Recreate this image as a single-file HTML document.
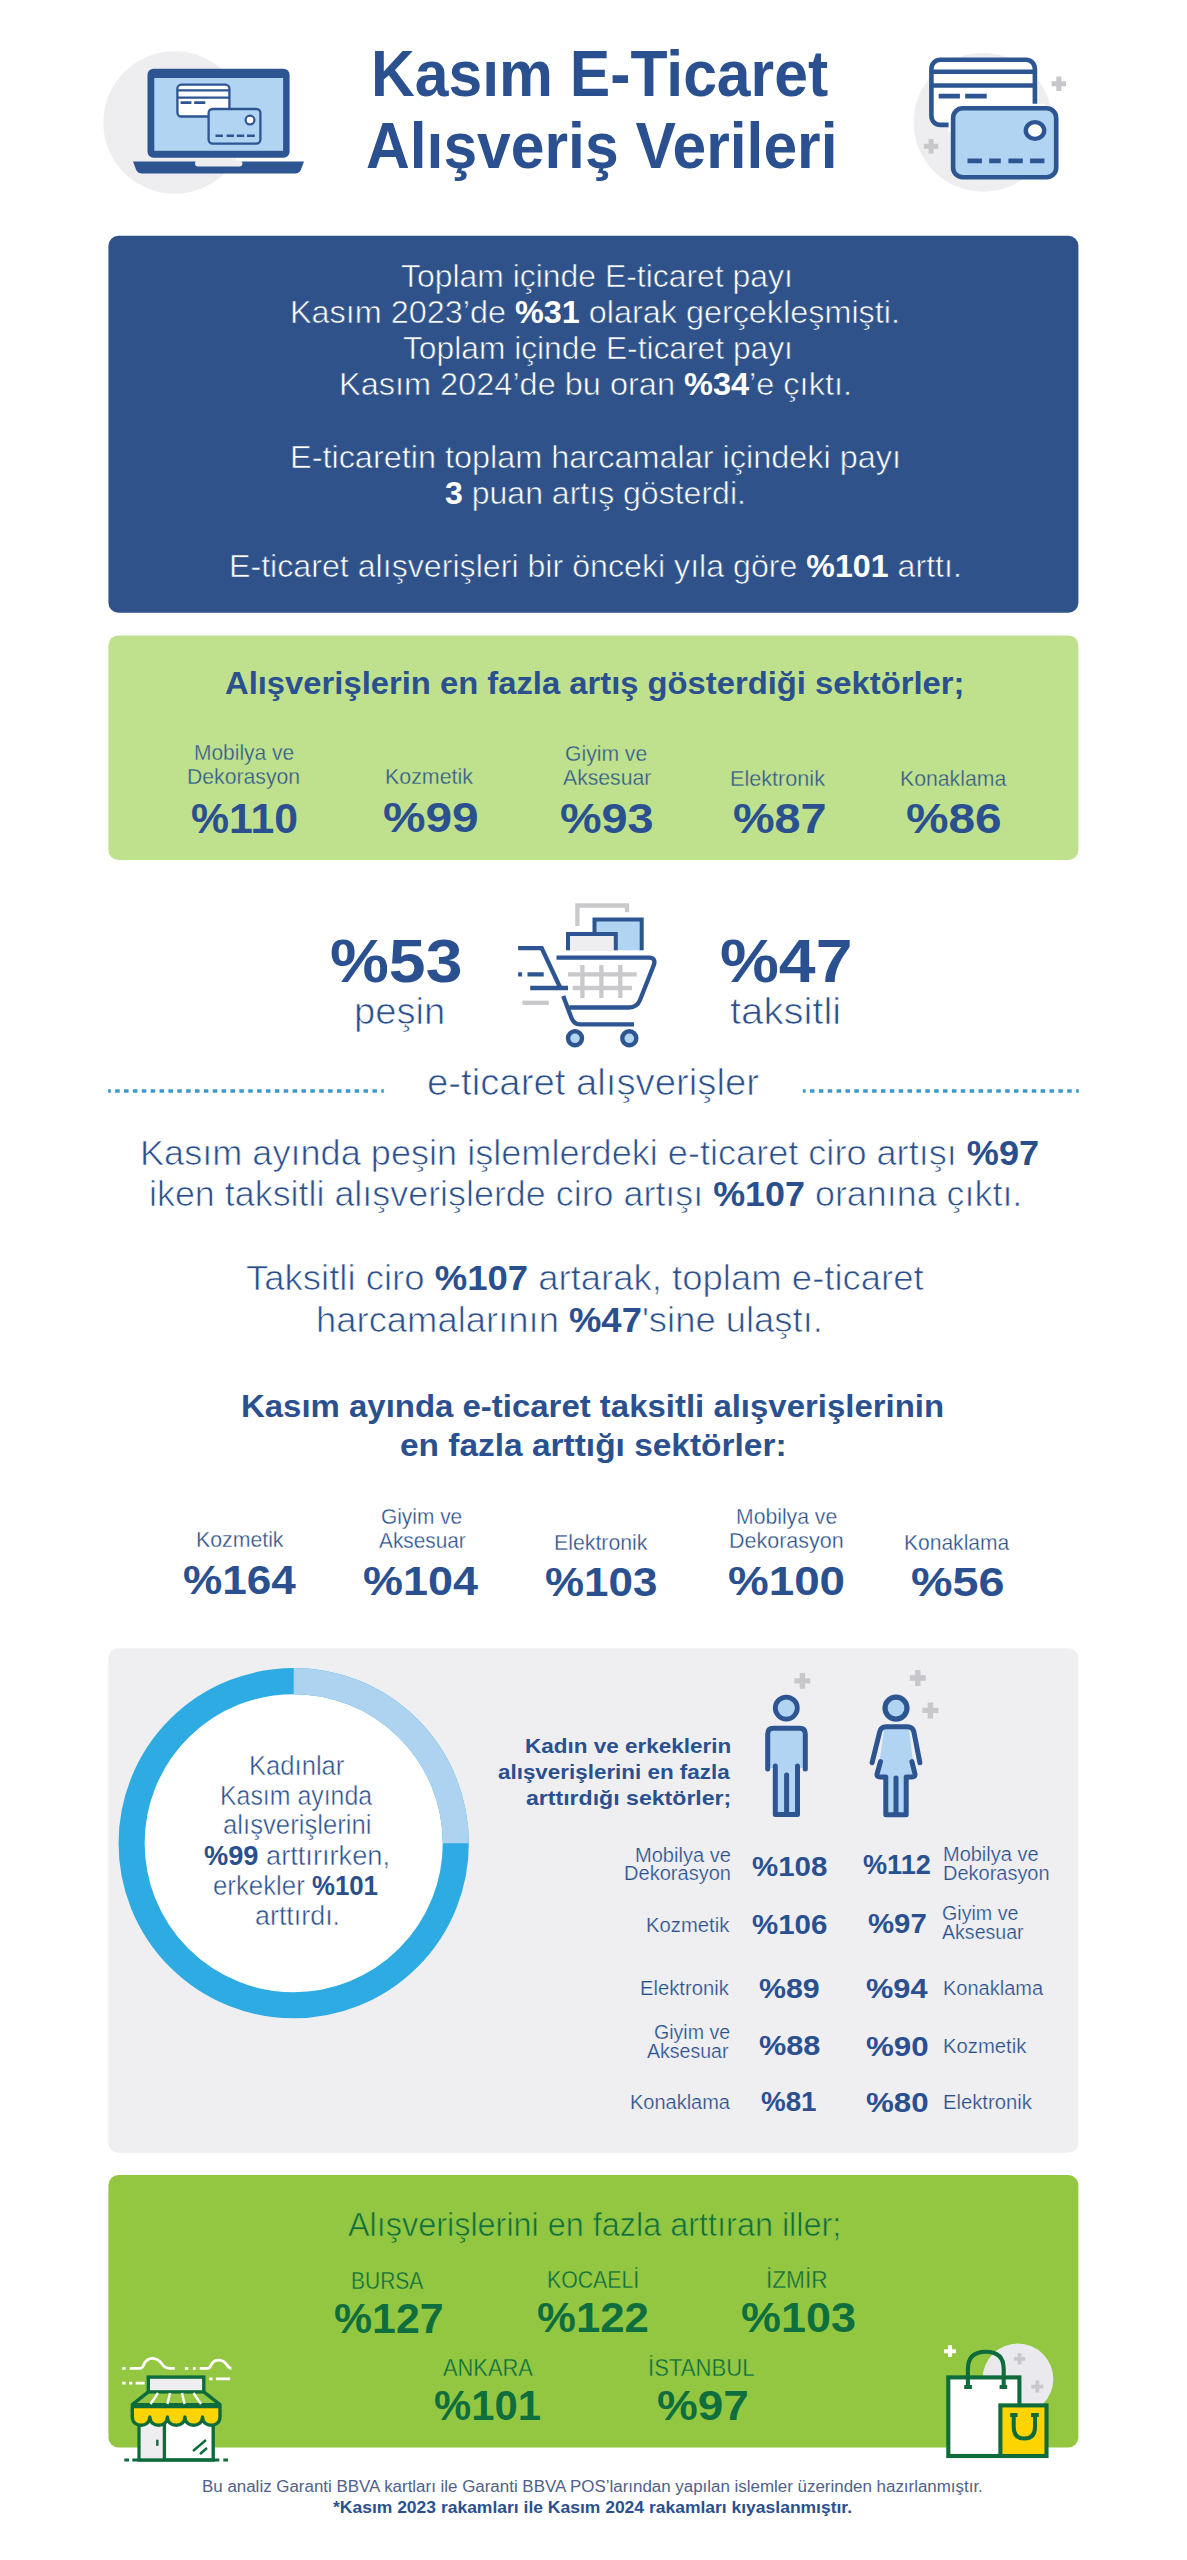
<!DOCTYPE html>
<html lang="tr"><head><meta charset="utf-8"><title>Kasım E-Ticaret Alışveriş Verileri</title>
<style>
*{margin:0;padding:0;box-sizing:border-box}
html,body{width:1187px;height:2560px;background:#fff;overflow:hidden}
body{position:relative;font-family:"Liberation Sans",sans-serif}
svg.bg{position:absolute;left:0;top:0}
.t{position:absolute;white-space:nowrap;line-height:1;transform-origin:0 0;font-weight:400}
.t.b{font-weight:700}
.t b{font-weight:700;-webkit-text-stroke-width:0}
.t .n{font-weight:400}
</style></head>
<body>
<svg class="bg" width="1187" height="2560" viewBox="0 0 1187 2560">
<!-- boxes -->
<rect x="108.4" y="235.8" width="970" height="377" rx="10" fill="#2e5289"/>
<rect x="108.4" y="635.4" width="970" height="224.5" rx="10" fill="#bfe08d"/>
<rect x="108.3" y="1648.3" width="970" height="504.4" rx="10" fill="#efeff2"/>
<rect x="108.4" y="2175" width="970" height="272.5" rx="10" fill="#93c741"/>

<!-- header left icon: laptop -->
<g id="laptop">
<circle cx="174.6" cy="122.5" r="71.3" fill="#eeeef1"/>
<rect x="147.5" y="68.7" width="142.1" height="89" rx="6" fill="#2d5592"/>
<rect x="154.3" y="78" width="128.8" height="72.8" fill="#b0d4f1"/>
<path d="M133 161.4 H304 L301 169.5 Q299.5 173.5 295 173.5 H142 Q137.5 173.5 136 169.5 Z" fill="#2d5592"/>
<rect x="195" y="160.5" width="47.4" height="6" rx="3" fill="#eeeef1"/>
<rect x="177.4" y="84.7" width="52" height="31.8" rx="4" fill="#fff" stroke="#2d5592" stroke-width="2.3"/>
<path d="M177.4 90.3 H229.4 M177.4 97.7 H229.4" stroke="#2d5592" stroke-width="2.2"/>
<path d="M180.6 102.6 H191.4 M194.2 102.6 H205.3" stroke="#2d5592" stroke-width="2.8"/>
<rect x="208.6" y="109" width="51.8" height="34.6" rx="4" fill="#b0d4f1" stroke="#2d5592" stroke-width="2.3"/>
<circle cx="250" cy="120.1" r="4.4" fill="#fff" stroke="#2d5592" stroke-width="2.2"/>
<path d="M215.5 135.7 H222.9 M226.6 135.7 H234 M236.8 135.7 H244.2 M247 135.7 H254.8" stroke="#2d5592" stroke-width="2.6"/>
</g>

<!-- header right icon: cards -->
<g id="cards">
<circle cx="983" cy="122.3" r="69.4" fill="#eeeef1"/>
<path d="M1058.8 76.5 V90.9 M1051.6 83.7 H1066 " stroke="#c8c8cc" stroke-width="5"/>
<path d="M931.1 139 V153.4 M923.9 146.2 H938.3" stroke="#c8c8cc" stroke-width="5"/>
<rect x="931.4" y="59.7" width="103.5" height="65.2" rx="9" fill="#fff" stroke="#2d5592" stroke-width="4.6"/>
<path d="M933 71.8 H1033.5 M933 85.5 H1033.5" stroke="#2d5592" stroke-width="4.4"/>
<path d="M938.7 96.1 H959.9 M965.2 96.1 H986.7" stroke="#2d5592" stroke-width="4.6"/>
<path d="M953.1 132 V117.8 Q953.1 108.3 962.6 108.3 H1045" fill="none" stroke="#fff" stroke-width="9"/>
<rect x="953.1" y="108.3" width="103.1" height="68.9" rx="9.5" fill="#b0d4f1" stroke="#2d5592" stroke-width="4.6"/>
<ellipse cx="1035" cy="130.5" rx="9.2" ry="8.4" fill="#fff" stroke="#2d5592" stroke-width="4.4"/>
<path d="M967.5 160.9 H981.9 M989.2 160.9 H1000.8 M1008.4 160.9 H1022.8 M1030.1 160.9 H1044.4" stroke="#2d5592" stroke-width="4.6"/>
</g>

<!-- cart -->
<g id="cart" fill="none" stroke-width="4.3">
<path d="M577.4 926 V905.5 H627 V912.3" stroke="#c9c9cc"/>
<rect x="594.5" y="919.6" width="47.2" height="30.7" fill="#b0d4f1" stroke="none"/>
<path d="M594.5 950.3 V919.6 H641.7 V950.3" stroke="#2d5592" stroke-width="4"/>
<rect x="568" y="934" width="47.8" height="17" fill="#eeeef1" stroke="none"/>
<path d="M568 950.3 V934 H615.8 V950.3" stroke="#2d5592" stroke-width="4"/>
<path d="M582.4 965 V998.1 M601.4 965 V998.1 M620.3 965 V998.1 M568 974.3 H636.7 M572.7 988 H632" stroke="#c9c9cc" stroke-width="4.3"/>
<path d="M556.5 957.7 H649 Q656 957.7 654 964.5 L640 1000 Q637 1007.5 629 1007.5 H569.3" stroke="#2d5592" stroke-width="4.3"/>
<path d="M518.1 948.2 H541.7 L559.9 987" stroke="#2d5592" stroke-width="4.3"/>
<path d="M563.2 996.1 L571.5 1018 Q574 1024.4 580 1024.4 H634" stroke="#2d5592" stroke-width="4.3"/>
<path d="M518.1 974.3 H522.1 M527.5 974.3 H543.7 M530.2 988 H568" stroke="#2d5592" stroke-width="4.3"/>
<path d="M522.4 1002.8 H548.8" stroke="#c9c9cc" stroke-width="4.3"/>
<circle cx="575" cy="1038.3" r="7" fill="#b0d4f1" stroke="#2d5592" stroke-width="4.4"/>
<circle cx="629.3" cy="1038.3" r="7" fill="#b0d4f1" stroke="#2d5592" stroke-width="4.4"/>
</g>

<!-- dotted lines -->
<path d="M108.1 1091 H383.8" stroke="#3b9acb" stroke-width="3.3" stroke-dasharray="4.5 4.37" stroke-dashoffset="1.77"/>
<path d="M802.9 1091 H1078.8" stroke="#3b9acb" stroke-width="3.3" stroke-dasharray="4.5 4.37" stroke-dashoffset="1.77"/>

<!-- donut -->
<circle cx="293.7" cy="1843.2" r="162.1" fill="#fff" stroke="#2eabe2" stroke-width="26.1"/>
<path d="M293.7 1681.1 A162.1 162.1 0 0 1 455.8 1843.2" fill="none" stroke="#add3f0" stroke-width="26.1"/>

<!-- man -->
<g id="man" stroke="#2d5592" stroke-width="5" stroke-linecap="round" stroke-linejoin="round">
<path d="M794.4 1680.9 H810.3 M802.4 1673.1 V1688.8" stroke="#c8c8cc" stroke-width="5.4" stroke-linecap="butt"/>
<path d="M770 1730.6 H803 V1768 H798 V1815 H775 V1768 H770 Z" fill="#b0d4f1" stroke="none"/>
<circle cx="786.3" cy="1708.1" r="11" fill="#b0d4f1" stroke-width="4.8"/>
<path d="M767.7 1769 V1734 Q767.7 1728.3 773.4 1728.3 H799.6 Q805.3 1728.3 805.3 1734 V1769" fill="none"/>
<path d="M775.3 1766 V1814.4 H797.5 V1766" fill="none"/>
<path d="M786.6 1775 V1814" fill="none"/>
</g>

<!-- woman -->
<g id="woman" stroke="#2d5592" stroke-width="5" stroke-linecap="round" stroke-linejoin="round">
<path d="M909.8 1678 H925.8 M917.8 1670 V1686" stroke="#c8c8cc" stroke-width="5.4" stroke-linecap="butt"/>
<path d="M922.4 1710.4 H938.4 M930.4 1702.4 V1718.4" stroke="#c8c8cc" stroke-width="5.4" stroke-linecap="butt"/>
<path d="M884 1729 H909 L915 1777 H906 V1813 H886 V1777 H877.5 Z" fill="#b0d4f1" stroke="none"/>
<circle cx="896" cy="1708.1" r="11" fill="#b0d4f1" stroke-width="5.2"/>
<path d="M872.1 1762.7 L879.8 1731.5 Q881 1726.7 886 1726.7 H907.5 Q912.5 1726.7 913.8 1731.5 L919.9 1762.7" fill="none"/>
<path d="M880.5 1761.6 L877 1774 Q876.5 1777 880 1777 H885.8 V1814.7 H906.2 V1777 H912 Q915.5 1777 915 1774 L911.9 1761.6" fill="none"/>
<path d="M896 1778 V1814" fill="none"/>
</g>

<!-- store icon -->
<g id="store" stroke-linecap="butt">
<path d="M122.2 2368.3 H125.6 M129.7 2368.3 H140.4 Q143 2368 144 2364 Q147 2358 153 2358.3 Q158 2358.5 162 2364 Q165 2368.3 170 2368.3 H174.8" stroke="#fff" stroke-width="2.8" fill="none"/>
<path d="M184.9 2368.3 H188.3 M193 2368.3 H195.7 M199.7 2368.3 H207.8 Q210 2368 211 2365 Q214 2360 219 2360.2 Q224 2360.5 227 2365 Q229 2368.3 231.4 2368.3" stroke="#fff" stroke-width="2.8" fill="none"/>
<path d="M122.2 2383.1 H125.6 M129 2383.1 H132.3 M135.7 2383.1 H144.5 M209.2 2378.8 H212.5 M215.9 2378.8 H230.1" stroke="#fff" stroke-width="2.8" fill="none"/>
<rect x="148.3" y="2377.1" width="55.5" height="14.8" fill="#eeeef1" stroke="#0e6b3b" stroke-width="3.4"/>
<path d="M148.3 2391.9 L132.3 2404.7 H220 L203.8 2391.9" fill="none" stroke="#0e6b3b" stroke-width="3.4" stroke-linejoin="round"/>
<path d="M158 2393 L150.5 2404 M170 2393 L167.5 2404 M182 2393 L184.5 2404 M193.5 2393 L201 2404" stroke="#fff" stroke-width="2.4"/>
<rect x="139.1" y="2420" width="74.1" height="40" fill="#fff" stroke="#0e6b3b" stroke-width="3.4"/>
<rect x="140.8" y="2421.5" width="23.6" height="37" fill="#eeeef1"/>
<path d="M164.4 2420 V2460" stroke="#0e6b3b" stroke-width="3.4"/>
<path d="M157.3 2439.7 V2445.8" stroke="#0e6b3b" stroke-width="2.4"/>
<path d="M193 2451 L206 2440 M200 2454 L207 2448" stroke="#0e6b3b" stroke-width="2.4"/>
<path d="M132.3 2406.6 H220 V2417 C220.0 2428 202.5 2428 202.5 2417 C202.5 2428 184.9 2428 184.9 2417 C184.9 2428 167.4 2428 167.4 2417 C167.4 2428 149.8 2428 149.8 2417 C149.8 2428 132.3 2428 132.3 2417 Z" fill="#fdd400" stroke="#0e6b3b" stroke-width="3.4" stroke-linejoin="round"/>
<path d="M132.3 2460 H219.3 M124.3 2460 H129 M223.3 2460 H228" stroke="#0e6b3b" stroke-width="3.2"/>
</g>

<!-- bags icon -->
<g id="bags">
<circle cx="1017.9" cy="2379" r="35.4" fill="#eaeaee"/>
<path d="M944.1 2351.2 H955.9 M950 2345.3 V2357.1" stroke="#fff" stroke-width="4"/>
<path d="M1014 2358.9 H1025.2 M1019.6 2353.3 V2364.5" stroke="#c8c8cc" stroke-width="3.8"/>
<path d="M1031.3 2386.6 H1043.3 M1037.3 2380.6 V2392.6" stroke="#c8c8cc" stroke-width="3.8"/>
<rect x="948.3" y="2377.4" width="71.1" height="78.6" fill="#fff" stroke="#0e6b3b" stroke-width="4.1"/>
<path d="M967.9 2387 V2369 Q967.9 2351.8 985.8 2351.8 Q1003.7 2351.8 1003.7 2369 V2387 M964.2 2387 H971.9 M999.6 2387 H1007.2" fill="none" stroke="#0e6b3b" stroke-width="4.1"/>
<rect x="1000.4" y="2405.4" width="46.1" height="50.6" fill="#fdd400" stroke="#0e6b3b" stroke-width="4.1"/>
<path d="M1013.7 2414.9 V2427 Q1013.7 2438.5 1024.3 2438.5 Q1035 2438.5 1035 2427 V2414.9 M1010.2 2414.9 H1017.5 M1031 2414.9 H1038.8" fill="none" stroke="#0e6b3b" stroke-width="4"/>
</g>
</svg>

<div class="t b" style="left:371.21px;top:41.81px;font-size:64px;color:#2a5090;transform:scaleX(0.9471)">Kasım E-Ticaret</div>
<div class="t b" style="left:366.05px;top:113.81px;font-size:64px;color:#2a5090;transform:scaleX(0.9466)">Alışveriş Verileri</div>
<div class="t" style="left:401.00px;top:260.21px;font-size:32px;color:#ffffff;transform:scaleX(0.9970);-webkit-text-stroke:0.61px #2e5289">Toplam içinde E-ticaret payı</div>
<div class="t" style="left:289.98px;top:295.91px;font-size:32px;color:#ffffff;transform:scaleX(1.0116);-webkit-text-stroke:0.61px #2e5289">Kasım 2023’de <b>%31</b> olarak gerçekleşmişti.</div>
<div class="t" style="left:403.00px;top:332.41px;font-size:32px;color:#ffffff;transform:scaleX(0.9919);-webkit-text-stroke:0.61px #2e5289">Toplam içinde E-ticaret payı</div>
<div class="t" style="left:338.97px;top:367.71px;font-size:32px;color:#ffffff;transform:scaleX(1.0154);-webkit-text-stroke:0.61px #2e5289">Kasım 2024’de bu oran <b>%34</b>’e çıktı.</div>
<div class="t" style="left:289.97px;top:441.21px;font-size:32px;color:#ffffff;transform:scaleX(1.0133);-webkit-text-stroke:0.61px #2e5289">E-ticaretin toplam harcamalar içindeki payı</div>
<div class="t" style="left:445.00px;top:477.41px;font-size:32px;color:#ffffff;transform:scaleX(1.0009);-webkit-text-stroke:0.61px #2e5289"><b>3</b> puan artış gösterdi.</div>
<div class="t" style="left:228.99px;top:549.91px;font-size:32px;color:#ffffff;transform:scaleX(1.0051);-webkit-text-stroke:0.61px #2e5289">E-ticaret alışverişleri bir önceki yıla göre <b>%101</b> arttı.</div>
<div class="t b" style="left:225.00px;top:668.25px;font-size:31px;color:#2a5090;transform:scaleX(1.0571)">Alışverişlerin en fazla artış gösterdiği sektörler;</div>
<div class="t" style="left:194.05px;top:742.37px;font-size:22px;color:#345889;transform:scaleX(0.9527);-webkit-text-stroke:0.31px #bfe08d">Mobilya ve</div>
<div class="t" style="left:187.04px;top:765.87px;font-size:22px;color:#345889;transform:scaleX(0.9639);-webkit-text-stroke:0.31px #bfe08d">Dekorasyon</div>
<div class="t" style="left:385.03px;top:766.37px;font-size:22px;color:#345889;transform:scaleX(0.9727);-webkit-text-stroke:0.31px #bfe08d">Kozmetik</div>
<div class="t" style="left:565.04px;top:743.37px;font-size:22px;color:#345889;transform:scaleX(0.9606);-webkit-text-stroke:0.31px #bfe08d">Giyim ve</div>
<div class="t" style="left:563.00px;top:767.37px;font-size:22px;color:#345889;transform:scaleX(0.9630);-webkit-text-stroke:0.31px #bfe08d">Aksesuar</div>
<div class="t" style="left:730.02px;top:767.87px;font-size:22px;color:#345889;transform:scaleX(0.9835);-webkit-text-stroke:0.31px #bfe08d">Elektronik</div>
<div class="t" style="left:900.03px;top:767.87px;font-size:22px;color:#345889;transform:scaleX(0.9651);-webkit-text-stroke:0.31px #bfe08d">Konaklama</div>
<div class="t b" style="left:190.98px;top:797.94px;font-size:42px;color:#2a5090;transform:scaleX(1.0171)">%110</div>
<div class="t b" style="left:382.86px;top:797.44px;font-size:42px;color:#2a5090;transform:scaleX(1.1383)">%99</div>
<div class="t b" style="left:559.89px;top:798.44px;font-size:42px;color:#2a5090;transform:scaleX(1.1138)">%93</div>
<div class="t b" style="left:732.89px;top:798.44px;font-size:42px;color:#2a5090;transform:scaleX(1.1138)">%87</div>
<div class="t b" style="left:905.86px;top:798.44px;font-size:42px;color:#2a5090;transform:scaleX(1.1383)">%86</div>
<div class="t b" style="left:329.92px;top:929.53px;font-size:61.5px;color:#2a5090;transform:scaleX(1.0760)">%53</div>
<div class="t b" style="left:719.92px;top:929.53px;font-size:61.5px;color:#2a5090;transform:scaleX(1.0760)">%47</div>
<div class="t" style="left:353.88px;top:993.62px;font-size:36px;color:#2a4f8c;transform:scaleX(1.0604);-webkit-text-stroke:0.73px #ffffff">peşin</div>
<div class="t" style="left:729.50px;top:993.62px;font-size:36px;color:#2a4f8c;transform:scaleX(1.1120);-webkit-text-stroke:0.73px #ffffff">taksitli</div>
<div class="t" style="left:426.94px;top:1065.22px;font-size:36px;color:#2a4f8c;transform:scaleX(1.0640);-webkit-text-stroke:0.73px #ffffff">e-ticaret alışverişler</div>
<div class="t" style="left:140.44px;top:1134.67px;font-size:35px;color:#2a4f8c;transform:scaleX(1.0317);-webkit-text-stroke:0.70px #ffffff">Kasım ayında peşin işlemlerdeki e-ticaret ciro artışı <b>%97</b></div>
<div class="t" style="left:148.95px;top:1175.87px;font-size:35px;color:#2a4f8c;transform:scaleX(1.0250);-webkit-text-stroke:0.70px #ffffff">iken taksitli alışverişlerde ciro artışı <b>%107</b> oranına çıktı.</div>
<div class="t" style="left:246.00px;top:1260.17px;font-size:35px;color:#2a4f8c;transform:scaleX(1.0431);-webkit-text-stroke:0.70px #ffffff">Taksitli ciro <b>%107</b> artarak, toplam e-ticaret</div>
<div class="t" style="left:315.92px;top:1302.37px;font-size:35px;color:#2a4f8c;transform:scaleX(1.0404);-webkit-text-stroke:0.70px #ffffff">harcamalarının <b>%47</b>'sine ulaştı.</div>
<div class="t b" style="left:240.87px;top:1391.45px;font-size:31px;color:#2a5090;transform:scaleX(1.0627)">Kasım ayında e-ticaret taksitli alışverişlerinin</div>
<div class="t b" style="left:399.92px;top:1429.75px;font-size:31px;color:#2a5090;transform:scaleX(1.0788)">en fazla arttığı sektörler:</div>
<div class="t" style="left:195.53px;top:1528.67px;font-size:22px;color:#2a4f8c;transform:scaleX(0.9672);-webkit-text-stroke:0.31px #ffffff">Kozmetik</div>
<div class="t" style="left:381.05px;top:1505.87px;font-size:22px;color:#2a4f8c;transform:scaleX(0.9487);-webkit-text-stroke:0.31px #ffffff">Giyim ve</div>
<div class="t" style="left:378.50px;top:1530.07px;font-size:22px;color:#2a4f8c;transform:scaleX(0.9466);-webkit-text-stroke:0.31px #ffffff">Aksesuar</div>
<div class="t" style="left:553.53px;top:1531.87px;font-size:22px;color:#2a4f8c;transform:scaleX(0.9680);-webkit-text-stroke:0.31px #ffffff">Elektronik</div>
<div class="t" style="left:736.04px;top:1505.77px;font-size:22px;color:#2a4f8c;transform:scaleX(0.9623);-webkit-text-stroke:0.31px #ffffff">Mobilya ve</div>
<div class="t" style="left:729.02px;top:1529.77px;font-size:22px;color:#2a4f8c;transform:scaleX(0.9769);-webkit-text-stroke:0.31px #ffffff">Dekorasyon</div>
<div class="t" style="left:904.04px;top:1531.87px;font-size:22px;color:#2a4f8c;transform:scaleX(0.9560);-webkit-text-stroke:0.31px #ffffff">Konaklama</div>
<div class="t b" style="left:183.42px;top:1559.79px;font-size:41px;color:#2a5090;transform:scaleX(1.0763)">%164</div>
<div class="t b" style="left:363.40px;top:1561.29px;font-size:41px;color:#2a5090;transform:scaleX(1.0955)">%104</div>
<div class="t b" style="left:544.93px;top:1562.29px;font-size:41px;color:#2a5090;transform:scaleX(1.0722)">%103</div>
<div class="t b" style="left:727.88px;top:1561.29px;font-size:41px;color:#2a5090;transform:scaleX(1.1159)">%100</div>
<div class="t b" style="left:911.36px;top:1562.29px;font-size:41px;color:#2a5090;transform:scaleX(1.1401)">%56</div>
<div class="t" style="left:248.60px;top:1752.54px;font-size:27px;color:#2a4f8c;transform:scaleX(0.9485);-webkit-text-stroke:0.46px #ffffff">Kadınlar</div>
<div class="t" style="left:219.76px;top:1782.54px;font-size:27px;color:#2a4f8c;transform:scaleX(0.9210);-webkit-text-stroke:0.46px #ffffff">Kasım ayında</div>
<div class="t" style="left:222.65px;top:1812.34px;font-size:27px;color:#2a4f8c;transform:scaleX(0.9517);-webkit-text-stroke:0.46px #ffffff">alışverişlerini</div>
<div class="t" style="left:204.20px;top:1842.64px;font-size:27px;color:#2a4f8c;transform:scaleX(1.0078);-webkit-text-stroke:0.46px #ffffff"><b>%99</b> arttırırken,</div>
<div class="t" style="left:213.34px;top:1873.04px;font-size:27px;color:#2a4f8c;transform:scaleX(0.9559);-webkit-text-stroke:0.46px #ffffff">erkekler <b>%101</b></div>
<div class="t" style="left:254.61px;top:1903.34px;font-size:27px;color:#2a4f8c;transform:scaleX(0.9949);-webkit-text-stroke:0.46px #ffffff">arttırdı.</div>
<div class="t b" style="left:524.93px;top:1734.82px;font-size:21px;color:#2a5090;transform:scaleX(1.0709)">Kadın ve erkeklerin</div>
<div class="t b" style="left:498.30px;top:1760.82px;font-size:21px;color:#2a5090;transform:scaleX(1.0670)">alışverişlerini en fazla</div>
<div class="t b" style="left:525.70px;top:1786.72px;font-size:21px;color:#2a5090;transform:scaleX(1.0995)">arttırdığı sektörler;</div>
<div class="t" style="left:635.27px;top:1845.69px;font-size:19.5px;color:#2a4f8c;transform:scaleX(1.0289);-webkit-text-stroke:0.23px #efeff2">Mobilya ve</div>
<div class="t" style="left:624.17px;top:1864.49px;font-size:19.5px;color:#2a4f8c;transform:scaleX(1.0283);-webkit-text-stroke:0.23px #efeff2">Dekorasyon</div>
<div class="t" style="left:645.76px;top:1916.09px;font-size:19.5px;color:#2a4f8c;transform:scaleX(1.0385);-webkit-text-stroke:0.23px #efeff2">Kozmetik</div>
<div class="t" style="left:640.26px;top:1979.49px;font-size:19.5px;color:#2a4f8c;transform:scaleX(1.0369);-webkit-text-stroke:0.23px #efeff2">Elektronik</div>
<div class="t" style="left:654.00px;top:2023.39px;font-size:19.5px;color:#2a4f8c;transform:scaleX(1.0041);-webkit-text-stroke:0.23px #efeff2">Giyim ve</div>
<div class="t" style="left:647.40px;top:2041.99px;font-size:19.5px;color:#2a4f8c;transform:scaleX(1.0013);-webkit-text-stroke:0.23px #efeff2">Aksesuar</div>
<div class="t" style="left:630.18px;top:2093.49px;font-size:19.5px;color:#2a4f8c;transform:scaleX(1.0247);-webkit-text-stroke:0.23px #efeff2">Konaklama</div>
<div class="t" style="left:942.58px;top:1845.39px;font-size:19.5px;color:#2a4f8c;transform:scaleX(1.0245);-webkit-text-stroke:0.23px #efeff2">Mobilya ve</div>
<div class="t" style="left:942.58px;top:1863.89px;font-size:19.5px;color:#2a4f8c;transform:scaleX(1.0244);-webkit-text-stroke:0.23px #efeff2">Dekorasyon</div>
<div class="t" style="left:942.10px;top:1904.49px;font-size:19.5px;color:#2a4f8c;transform:scaleX(1.0081);-webkit-text-stroke:0.23px #efeff2">Giyim ve</div>
<div class="t" style="left:942.10px;top:1922.69px;font-size:19.5px;color:#2a4f8c;transform:scaleX(1.0038);-webkit-text-stroke:0.23px #efeff2">Aksesuar</div>
<div class="t" style="left:942.57px;top:1979.09px;font-size:19.5px;color:#2a4f8c;transform:scaleX(1.0257);-webkit-text-stroke:0.23px #efeff2">Konaklama</div>
<div class="t" style="left:942.56px;top:2037.09px;font-size:19.5px;color:#2a4f8c;transform:scaleX(1.0385);-webkit-text-stroke:0.23px #efeff2">Kozmetik</div>
<div class="t" style="left:942.56px;top:2093.29px;font-size:19.5px;color:#2a4f8c;transform:scaleX(1.0369);-webkit-text-stroke:0.23px #efeff2">Elektronik</div>
<div class="t b" style="left:751.50px;top:1852.69px;font-size:28px;color:#2a5090;transform:scaleX(1.0529)">%108</div>
<div class="t b" style="left:751.50px;top:1910.89px;font-size:28px;color:#2a5090;transform:scaleX(1.0529)">%106</div>
<div class="t b" style="left:758.60px;top:1974.69px;font-size:28px;color:#2a5090;transform:scaleX(1.0835)">%89</div>
<div class="t b" style="left:758.60px;top:2032.29px;font-size:28px;color:#2a5090;transform:scaleX(1.0943)">%88</div>
<div class="t b" style="left:761.20px;top:2088.29px;font-size:28px;color:#2a5090;transform:scaleX(0.9915)">%81</div>
<div class="t b" style="left:863.30px;top:1851.49px;font-size:28px;color:#2a5090;transform:scaleX(0.9684)">%112</div>
<div class="t b" style="left:868.20px;top:1910.49px;font-size:28px;color:#2a5090;transform:scaleX(1.0492)">%97</div>
<div class="t b" style="left:865.80px;top:1974.89px;font-size:28px;color:#2a5090;transform:scaleX(1.0980)">%94</div>
<div class="t b" style="left:865.80px;top:2032.69px;font-size:28px;color:#2a5090;transform:scaleX(1.1177)">%90</div>
<div class="t b" style="left:865.80px;top:2088.69px;font-size:28px;color:#2a5090;transform:scaleX(1.1177)">%80</div>
<div class="t" style="left:347.80px;top:2207.96px;font-size:33px;color:#106e3e;transform:scaleX(0.9817);-webkit-text-stroke:0.64px #93c741">Alışverişlerini en fazla arttıran iller;</div>
<div class="t" style="left:351.09px;top:2269.53px;font-size:23px;color:#106e3e;transform:scaleX(0.9125);-webkit-text-stroke:0.34px #93c741">BURSA</div>
<div class="t" style="left:547.08px;top:2268.83px;font-size:23px;color:#106e3e;transform:scaleX(0.9248);-webkit-text-stroke:0.34px #93c741">KOCAELİ</div>
<div class="t" style="left:765.73px;top:2268.83px;font-size:23px;color:#106e3e;transform:scaleX(0.9835);-webkit-text-stroke:0.34px #93c741">İZMİR</div>
<div class="t" style="left:443.00px;top:2356.53px;font-size:23px;color:#106e3e;transform:scaleX(0.9502);-webkit-text-stroke:0.34px #93c741">ANKARA</div>
<div class="t" style="left:648.08px;top:2356.53px;font-size:23px;color:#106e3e;transform:scaleX(0.9608);-webkit-text-stroke:0.34px #93c741">İSTANBUL</div>
<div class="t b" style="left:334.00px;top:2296.69px;font-size:43px;color:#0f6e3d;transform:scaleX(0.9957)">%127</div>
<div class="t b" style="left:537.28px;top:2296.09px;font-size:43px;color:#0f6e3d;transform:scaleX(1.0179)">%122</div>
<div class="t b" style="left:740.76px;top:2296.09px;font-size:43px;color:#0f6e3d;transform:scaleX(1.0448)">%103</div>
<div class="t b" style="left:434.33px;top:2383.79px;font-size:43px;color:#0f6e3d;transform:scaleX(0.9717)">%101</div>
<div class="t b" style="left:657.23px;top:2383.79px;font-size:43px;color:#0f6e3d;transform:scaleX(1.0660)">%97</div>
<div class="t" style="left:202.04px;top:2478.95px;font-size:16px;color:#4f6188;transform:scaleX(1.0574)">Bu analiz Garanti BBVA kartları ile Garanti BBVA POS’larından yapılan islemler üzerinden hazırlanmıştır.</div>
<div class="t b" style="left:333.40px;top:2499.65px;font-size:16px;color:#2a5090;transform:scaleX(1.0928)">*Kasım 2023 rakamları ile Kasım 2024 rakamları kıyaslanmıştır.</div>
</body></html>
